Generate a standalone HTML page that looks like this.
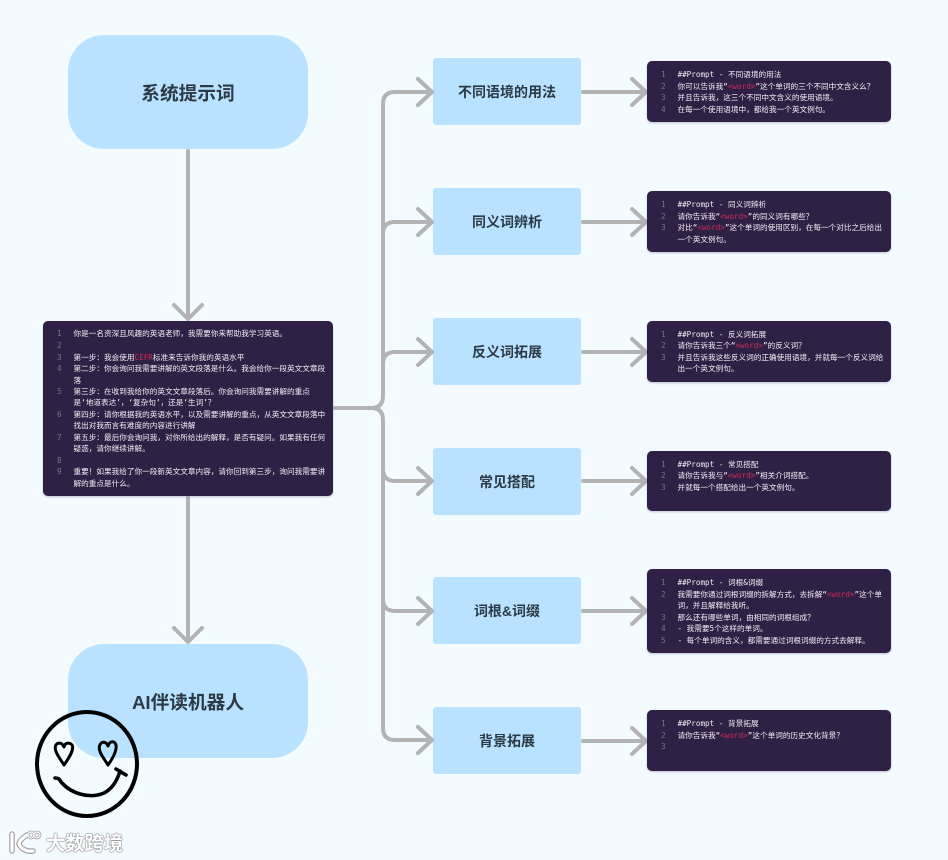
<!DOCTYPE html>
<html lang="zh"><head><meta charset="utf-8"><style>
html,body{margin:0;padding:0}
body{width:948px;height:860px;position:relative;overflow:hidden;background:#f4fbff;font-family:"Liberation Sans","Noto Sans CJK SC",sans-serif}
.big,.mid{position:absolute;background:#b8e2ff;color:#2b3a46;font-weight:700;display:flex;align-items:center;justify-content:center;font-family:"Liberation Sans","Noto Sans CJK SC",sans-serif}
.big{left:68px;width:240px;height:114px;border-radius:36px;font-size:18.7px}
.mid{left:433px;width:148px;height:67px;border-radius:3px;font-size:14px}
.code{position:absolute;background:#2f2145;border-radius:5px;box-shadow:0 1px 2px rgba(90,80,120,.35)}
.l{position:absolute;white-space:nowrap;font:7.63px/11px "DejaVu Sans Mono","Noto Sans CJK JP",monospace;color:#f1eef6;filter:blur(.3px)}
.n{color:#7d7192}
.w{color:#cf2a58}
svg{position:absolute;left:0;top:0}
.wm{position:absolute;left:46px;top:830px;font:700 19.300px/24px "Noto Sans CJK SC",sans-serif;color:#fff;white-space:nowrap;text-shadow:0 0 1.5px #777,0 0 1px #777,0 0 1px #777}
</style></head><body>
<div class="big" style="top:35px">系统提示词</div>
<div class="big" style="top:644px;padding-top:1px;height:113px">AI伴读机器人</div>
<div class="mid" style="top:58px">不同语境的用法</div>
<div class="mid" style="top:188px">同义词辨析</div>
<div class="mid" style="top:318px">反义词拓展</div>
<div class="mid" style="top:448px">常见搭配</div>
<div class="mid" style="top:577px">词根&amp;词缀</div>
<div class="mid" style="top:707px">背景拓展</div>

<svg width="948" height="860" fill="none" stroke="#b3b3b3" stroke-width="4" stroke-linecap="round" stroke-linejoin="round">
<path d="M188 151V319M174 305L188 319L202 305"/>
<path d="M188 498V642M174 628L188 642L202 628"/>
<path d="M335 408H371Q383 408 383 396V104Q383 92 395 92H431"/>
<path d="M371 408Q383 408 383 420V728Q383 740 395 740H431"/>
<path d="M383 234Q383 222 395 222H431M383 364Q383 352 395 352H431M383 469Q383 481 395 481H431M383 599Q383 611 395 611H431"/>
<path d="M418 79L432 92L418 105M418 209L432 222L418 235M418 339L432 352L418 365M418 468L432 481L418 494M418 598L432 611L418 624M418 727L432 740L418 753"/>
<path d="M583 92H645M632 79L646 92L632 105M583 222H645M632 209L646 222L632 235M583 352H645M632 339L646 352L632 365M583 481H645M632 468L646 481L632 494M583 611H645M632 598L646 611L632 624M583 741H645M632 728L646 741L632 754"/>
</svg>

<div class="code" style="left:43px;top:321px;width:290px;height:175px"></div>
<div class="code" style="left:647px;top:61px;width:244px;height:61px"></div>
<div class="code" style="left:647px;top:191px;width:244px;height:61px"></div>
<div class="code" style="left:647px;top:321px;width:244px;height:61px"></div>
<div class="code" style="left:647px;top:451px;width:244px;height:60px"></div>
<div class="code" style="left:647px;top:569px;width:244px;height:84px"></div>
<div class="code" style="left:647px;top:710px;width:244px;height:61px"></div>

<!-- main text -->
<div class="l n" style="left:57px;top:328px">1</div><div class="l" style="left:73.5px;top:328px">你是一名资深且风趣的英语老师，我需要你来帮助我学习英语。</div>
<div class="l n" style="left:57px;top:340px">2</div>
<div class="l n" style="left:57px;top:351.5px">3</div><div class="l" style="left:73.5px;top:351.5px">第一步：我会使用<span class="w">CEFR</span>标准来告诉你我的英语水平</div>
<div class="l n" style="left:57px;top:363px">4</div><div class="l" style="left:73.5px;top:363px">第二步：你会询问我需要讲解的英文段落是什么。我会给你一段英文文章段</div>
<div class="l" style="left:73.5px;top:374.5px">落</div>
<div class="l n" style="left:57px;top:386px">5</div><div class="l" style="left:73.5px;top:386px">第三步：在收到我给你的英文文章段落后。你会询问我需要讲解的重点</div>
<div class="l" style="left:73.5px;top:397px">是‘地道表达’，‘复杂句’，还是‘生词’？</div>
<div class="l n" style="left:57px;top:408.5px">6</div><div class="l" style="left:73.5px;top:408.5px">第四步：请你根据我的英语水平，以及需要讲解的重点，从英文文章段落中</div>
<div class="l" style="left:73.5px;top:420px">找出对我而言有难度的内容进行讲解</div>
<div class="l n" style="left:57px;top:431.5px">7</div><div class="l" style="left:73.5px;top:431.5px">第五步：最后你会询问我，对你所给出的解释，是否有疑问。如果我有任何</div>
<div class="l" style="left:73.5px;top:443px">疑惑，请你继续讲解。</div>
<div class="l n" style="left:57px;top:454.5px">8</div>
<div class="l n" style="left:57px;top:466px">9</div><div class="l" style="left:73.5px;top:466px">重要！如果我给了你一段新英文文章内容，请你回到第三步，询问我需要讲</div>
<div class="l" style="left:73.5px;top:477.5px">解的重点是什么。</div>

<!-- box 1 -->
<div class="l n" style="left:661px;top:69px">1</div><div class="l" style="left:677.5px;top:69px">##Prompt - 不同语境的用法</div>
<div class="l n" style="left:661px;top:80.5px">2</div><div class="l" style="left:677.5px;top:80.5px">你可以告诉我“<span class="w">&lt;word&gt;</span>”这个单词的三个不同中文含义么？</div>
<div class="l n" style="left:661px;top:92px">3</div><div class="l" style="left:677.5px;top:92px">并且告诉我，这三个不同中文含义的使用语境。</div>
<div class="l n" style="left:661px;top:103.5px">4</div><div class="l" style="left:677.5px;top:103.5px">在每一个使用语境中，都给我一个英文例句。</div>
<!-- box 2 -->
<div class="l n" style="left:661px;top:199px">1</div><div class="l" style="left:677.5px;top:199px">##Prompt - 同义词辨析</div>
<div class="l n" style="left:661px;top:210.5px">2</div><div class="l" style="left:677.5px;top:210.5px">请你告诉我“<span class="w">&lt;word&gt;</span>”的同义词有哪些？</div>
<div class="l n" style="left:661px;top:222px">3</div><div class="l" style="left:677.5px;top:222px">对比“<span class="w">&lt;word&gt;</span>”这个单词的使用区别，在每一个对比之后给出</div>
<div class="l" style="left:677.5px;top:233.5px">一个英文例句。</div>
<!-- box 3 -->
<div class="l n" style="left:661px;top:329px">1</div><div class="l" style="left:677.5px;top:329px">##Prompt - 反义词拓展</div>
<div class="l n" style="left:661px;top:340px">2</div><div class="l" style="left:677.5px;top:340px">请你告诉我三个“<span class="w">&lt;word&gt;</span>”的反义词？</div>
<div class="l n" style="left:661px;top:351.5px">3</div><div class="l" style="left:677.5px;top:351.5px">并且告诉我这些反义词的正确使用语境，并就每一个反义词给</div>
<div class="l" style="left:677.5px;top:363px">出一个英文例句。</div>
<!-- box 4 -->
<div class="l n" style="left:661px;top:459px">1</div><div class="l" style="left:677.5px;top:459px">##Prompt - 常见搭配</div>
<div class="l n" style="left:661px;top:470px">2</div><div class="l" style="left:677.5px;top:470px">请你告诉我与“<span class="w">&lt;word&gt;</span>”相关介词搭配。</div>
<div class="l n" style="left:661px;top:481.5px">3</div><div class="l" style="left:677.5px;top:481.5px">并就每一个搭配给出一个英文例句。</div>
<!-- box 5 -->
<div class="l n" style="left:661px;top:577px">1</div><div class="l" style="left:677.5px;top:577px">##Prompt - 词根&amp;词缀</div>
<div class="l n" style="left:661px;top:588.5px">2</div><div class="l" style="left:677.5px;top:588.5px">我需要你通过词根词缀的拆解方式，去拆解“<span class="w">&lt;word&gt;</span>”这个单</div>
<div class="l" style="left:677.5px;top:600px">词，并且解释给我听。</div>
<div class="l n" style="left:661px;top:611.5px">3</div><div class="l" style="left:677.5px;top:611.5px">那么还有哪些单词，由相同的词根组成？</div>
<div class="l n" style="left:661px;top:623px">4</div><div class="l" style="left:677.5px;top:623px">- 我需要5个这样的单词。</div>
<div class="l n" style="left:661px;top:634.5px">5</div><div class="l" style="left:677.5px;top:634.5px">- 每个单词的含义，都需要通过词根词缀的方式去解释。</div>
<!-- box 6 -->
<div class="l n" style="left:661px;top:718px">1</div><div class="l" style="left:677.5px;top:718px">##Prompt - 背景拓展</div>
<div class="l n" style="left:661px;top:729.5px">2</div><div class="l" style="left:677.5px;top:729.5px">请你告诉我“<span class="w">&lt;word&gt;</span>”这个单词的历史文化背景？</div>
<div class="l n" style="left:661px;top:741px">3</div>

<!-- smiley -->
<svg width="948" height="860" fill="none" stroke="#000" stroke-linecap="round" stroke-linejoin="round">
<ellipse cx="87" cy="764" rx="50" ry="52" stroke-width="4"/>
<path stroke-width="3" d="M64 765C59 757 54 751 55.500 746C57 742 62 742 64 747C65 742 71 742 72.500 746C73.500 751 69 758 64 765Z"/>
<path stroke-width="3" d="M108 765C103 757 98 751 99.500 746C101 741 106 741 108 746C110 740 115 741 116 745C117 751 113 758 108 765Z"/>
<path stroke-width="3.600" d="M55 778C60 778 59 780 62 783C72 794 90 799 104 793C112 789 117 781 120 771M116 769L126 775"/>
</svg>

<!-- watermark -->
<svg width="948" height="860" fill="none" stroke="#fff" stroke-linecap="round">
<path d="M12 834V851M27 835C21 839 19 842 19 844C21 849 27 852 33 851" stroke="#a0a0a0" stroke-width="5.500"/>
<circle cx="31" cy="835" r="3" stroke="#a0a0a0" stroke-width="2.800"/>
<circle cx="37" cy="835" r="3" stroke="#a0a0a0" stroke-width="2.800"/>
<path d="M12 834V851M27 835C21 839 19 842 19 844C21 849 27 852 33 851" stroke-width="3.200"/>
<circle cx="31" cy="835" r="3" stroke-width="1.200"/>
<circle cx="37" cy="835" r="3" stroke-width="1.200"/>
</svg>
<div class="wm">大数跨境</div>
</body></html>
